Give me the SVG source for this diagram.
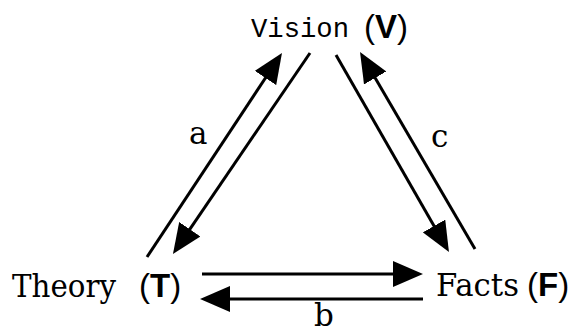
<svg xmlns="http://www.w3.org/2000/svg" width="574" height="333" viewBox="0 0 574 333">
<style>
.ln{stroke:#000;stroke-width:3;fill:none}
.ar{marker-end:url(#ah)}
.serif{font-family:"DejaVu Serif","Liberation Serif",serif;font-size:31px;fill:#000}
.mono{font-family:"Liberation Mono","Courier New",monospace;font-size:27px;fill:#000}
.sans{font-family:"Liberation Sans",Arial,sans-serif;font-size:33px;fill:#000}
.b{font-weight:bold}
</style>
<defs>
<marker id="ah" markerUnits="strokeWidth" markerWidth="10" markerHeight="8.6" refX="5" refY="4.3" orient="auto" viewBox="0 0 10 8.6">
<path d="M0,0 L10,4.3 L0,8.6 z" fill="#000"/>
</marker>
</defs>
<rect width="574" height="333" fill="#fff"/>
<g id="connectors">
<line class="ln ar" x1="147" y1="257" x2="273.7" y2="65.5"/>
<line class="ln ar" x1="310" y1="53" x2="181.4" y2="241.6"/>
<line class="ln ar" x1="336" y1="55" x2="441.5" y2="239"/>
<line class="ln ar" x1="475" y1="249" x2="367.6" y2="65"/>
<line class="ln ar" x1="202" y1="274" x2="408" y2="274"/>
<line class="ln ar" x1="423" y1="299" x2="215" y2="299"/>
<text class="serif" x="189" y="144">a</text>
<text class="serif" x="314" y="326">b</text>
<text class="serif" x="431" y="147">c</text>
</g>
<g id="vision">
<text class="mono" x="251" y="37" textLength="98" lengthAdjust="spacingAndGlyphs">Vision</text>
<text class="sans" x="364" y="38">(<tspan class="b">V</tspan>)</text>
</g>
<g id="theory">
<text class="serif" x="12" y="297" textLength="104" lengthAdjust="spacingAndGlyphs">Theory</text>
<text class="sans" x="139" y="297">(<tspan class="b">T</tspan>)</text>
</g>
<g id="facts">
<text class="serif" x="436" y="296" textLength="83" lengthAdjust="spacingAndGlyphs">Facts</text>
<text class="sans" x="527" y="296">(<tspan class="b">F</tspan>)</text>
</g>
</svg>
